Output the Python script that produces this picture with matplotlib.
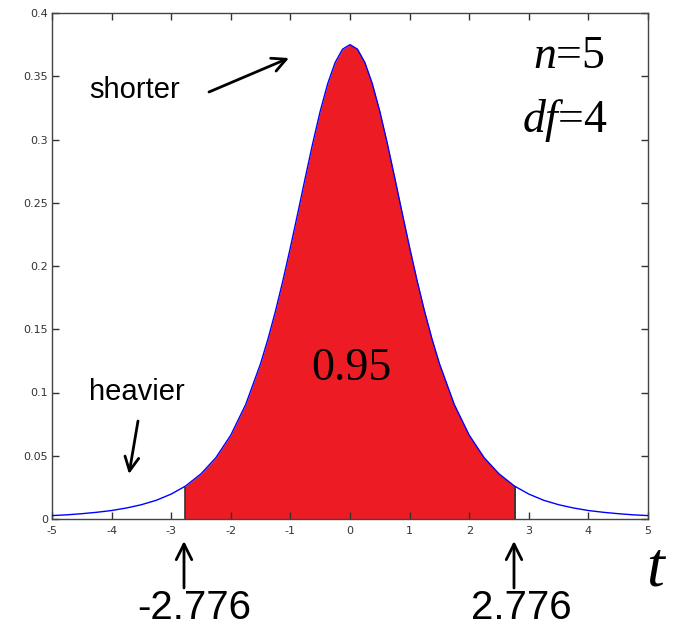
import matplotlib
matplotlib.use("Agg")
import matplotlib.pyplot as plt
from matplotlib.transforms import IdentityTransform
import numpy as np

# ---- data (t-distribution, df = 4) ----
t_vals = [-5.0, -4.75, -4.5, -4.25, -4.0, -3.75, -3.5, -3.25, -3.0, -2.776, -2.75,
          -2.5, -2.25, -2.0, -1.75, -1.5, -1.375, -1.25, -1.125, -1.0, -0.875, -0.75,
          -0.625, -0.5, -0.375, -0.25, -0.125, 0.0,
          0.125, 0.25, 0.375, 0.5, 0.625, 0.75, 0.875, 1.0, 1.125, 1.25, 1.375, 1.5,
          1.75, 2.0, 2.25, 2.5, 2.75, 2.776,
          3.0, 3.25, 3.5, 3.75, 4.0, 4.25, 4.5, 4.75, 5.0]
pdf_vals = [0.0027, 0.0033, 0.0042, 0.0053, 0.0067, 0.0087, 0.0113, 0.0148, 0.0197, 0.0256, 0.0264,
            0.0357, 0.0485, 0.0663, 0.0905, 0.1229, 0.1425, 0.1644, 0.1886, 0.2147, 0.2420, 0.2699,
            0.2971, 0.3223, 0.3440, 0.3608, 0.3714, 0.3750,
            0.3714, 0.3608, 0.3440, 0.3223, 0.2971, 0.2699, 0.2420, 0.2147, 0.1886, 0.1644, 0.1425, 0.1229,
            0.0905, 0.0663, 0.0485, 0.0357, 0.0264, 0.0256,
            0.0197, 0.0148, 0.0113, 0.0087, 0.0067, 0.0053, 0.0042, 0.0033, 0.0027]
crit_lo, crit_hi = -2.776, 2.776
area_label = "0.95"
x_ticks = [-5, -4, -3, -2, -1, 0, 1, 2, 3, 4, 5]
y_ticks = [0, 0.05, 0.1, 0.15, 0.2, 0.25, 0.3, 0.35, 0.4]

plt.rcParams['mathtext.fontset'] = 'custom'
plt.rcParams['mathtext.rm'] = 'Liberation Serif'
plt.rcParams['mathtext.it'] = 'Liberation Serif:italic'

W, H = 677, 632
fig = plt.figure(figsize=(W / 100, H / 100), dpi=100)
ax = fig.add_axes([52 / W, 1 - 519 / H, (648 - 52) / W, (519 - 13) / H])

t = np.array(t_vals)
p = np.array(pdf_vals)
mask = (t >= crit_lo - 1e-9) & (t <= crit_hi + 1e-9)
ax.fill_between(t, 0, p, where=mask, color='#ED1C24', linewidth=0, zorder=1)
i_lo = t_vals.index(crit_lo)
i_hi = t_vals.index(crit_hi)
ax.vlines([crit_lo, crit_hi], 0, [pdf_vals[i_lo], pdf_vals[i_hi]], color='#333333', lw=1.2, zorder=2)
ax.plot(t, p, color='#0000FF', lw=1.0, zorder=3)

ax.set_xlim(-5, 5)
ax.set_ylim(0, 0.4)
ax.set_xticks(x_ticks)
ax.set_yticks(y_ticks)
ax.set_xticklabels([f"{v:g}" for v in x_ticks])
ax.set_yticklabels([f"{v:g}" for v in y_ticks])
ax.tick_params(direction='in', length=5, width=1, colors='#333333', labelsize=8,
               top=True, right=True, pad=3)
ax.tick_params(axis='x', pad=5)
for s in ax.spines.values():
    s.set_color('#444444')
    s.set_linewidth(1.0)

PX = IdentityTransform()

def fp(x, y):
    return (x, H - y)

sans = 'Liberation Sans'
serif = 'Liberation Serif'

def txt(x, y, s, **kw):
    fig.text(*fp(x, y), s, transform=PX, **kw)

def arrow(x0, y0, x1, y1, ms=25):
    ax.annotate("", xy=fp(x1, y1), xytext=fp(x0, y0), xycoords='figure pixels', textcoords='figure pixels',
                arrowprops=dict(arrowstyle='->', lw=2, mutation_scale=ms, shrinkA=0, shrinkB=0, color='black'),
                annotation_clip=False)

txt(135, 90, "shorter", fontsize=21, family=sans, ha='center', va='center')
arrow(209, 92, 289, 58)
txt(137, 392, "heavier", fontsize=21, family=sans, ha='center', va='center')
arrow(138, 421, 129, 474)

txt(351, 369, area_label, fontsize=33, family=serif, ha='center', va='center')
txt(569, 68, r"$n$=5", fontsize=33, family=serif, ha='center', va='baseline')
txt(565, 132, r"$df$=4", fontsize=33, family=serif, ha='center', va='baseline')
txt(657, 585, r"$t$", fontsize=46, family=serif, ha='center', va='baseline')

for xc, lab, xt in [(184, f"{crit_lo:g}", 194), (514, f"{crit_hi:g}", 521)]:
    arrow(xc, 588, xc, 541, ms=28)
    txt(xt, 608, lab, fontsize=29, family=sans, ha='center', va='center')

fig.savefig("out.png", dpi=100)
